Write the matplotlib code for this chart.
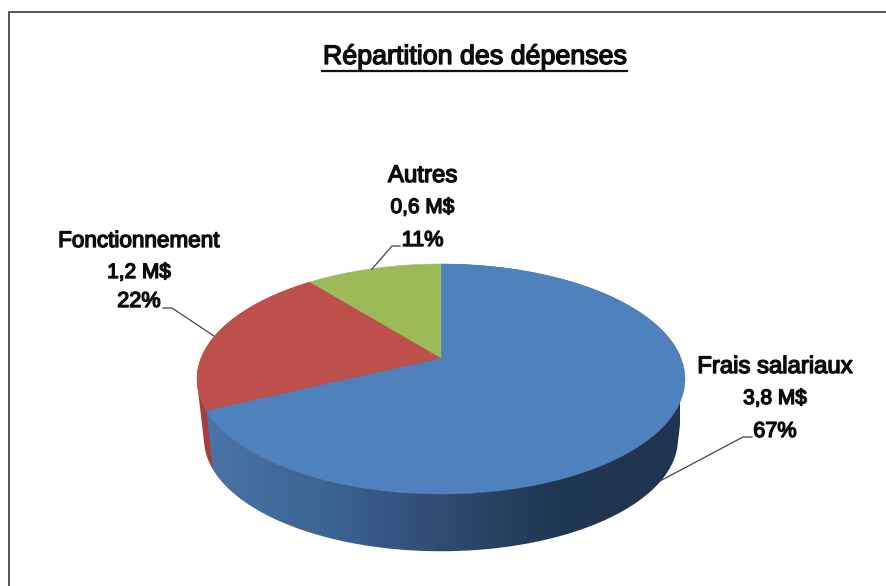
import numpy as np
import matplotlib
matplotlib.use("Agg")
import matplotlib.pyplot as plt
import matplotlib.patheffects as pe
from matplotlib.colors import LinearSegmentedColormap
from matplotlib.patches import Polygon

categories = ["Frais salariaux", "Fonctionnement", "Autres"]
amounts = [3.8, 1.2, 0.6]
amount_labels = ["3,8 M$", "1,2 M$", "0,6 M$"]
percent_labels = ["67%", "22%", "11%"]
title = "Répartition des dépenses"

FACE = ["#4F81BD", "#BE504C", "#9BBB59"]
WALL_STOPS = ["#4874A9", "#3D6594", "#2E4B70", "#203752", "#1F3450"]
WALL_RED = "#A83F3C"
FONT = ["Liberation Sans"]
INK = "#0C0C10"

W, H = 886, 586
fig = plt.figure(figsize=(W / 100, H / 100), dpi=100)
ax = fig.add_axes([0, 0, 1, 1])
ax.axis("off")

# chart frame (its right and bottom edges fall outside the crop)
ax.plot([9.5, 9.5, W], [H, 12, 12], color="#555555", lw=1.4, zorder=1)

CX, APEX = 441, 358
K, A, B = 0.1826, 239.9, 111.2


def face_xy(phi, sx=1.0, sy=1.0, dy=0.0):
    u, v = -np.sin(phi), np.cos(phi)
    d = 1 + K * v
    return CX + sx * A * u / d, APEX + dy - sy * B * v / d


def hull(pts):
    p = sorted(map(tuple, pts))
    def half(seq):
        out = []
        for q in seq:
            while len(out) > 1 and (out[-1][0] - out[-2][0]) * (q[1] - out[-2][1]) - (out[-1][1] - out[-2][1]) * (q[0] - out[-2][0]) <= 0:
                out.pop()
            out.append(q)
        return out[:-1]
    return np.array(half(p) + half(p[::-1]))


fractions = np.array(amounts) / sum(amounts)
edges = np.concatenate([[0], np.cumsum(fractions)])
ranges = [(-2 * np.pi * edges[i], -2 * np.pi * edges[i + 1]) for i in range(len(amounts))]

BOT = dict(sx=0.971, sy=0.975, dy=60.6)
cmap = LinearSegmentedColormap.from_list("wall", WALL_STOPS)

for i, (a0, a1) in enumerate(ranges):
    phi = np.linspace(a0, a1, 300)
    x0, y0 = face_xy(phi)
    x1, y1 = face_xy(phi, **BOT)
    pts = np.column_stack([np.r_[x0, x1[::-1]], np.r_[y0, y1[::-1]]])
    if i == 0:
        poly = Polygon(hull(pts), closed=True, fc="none", ec="none")
        ax.add_patch(poly)
        grad = np.linspace(0, 1, 256).reshape(1, -1)
        im = ax.imshow(grad, cmap=cmap, extent=[205, 680, H, 0], aspect="auto", zorder=2)
        im.set_clip_path(poly)
    elif i == 1:
        ax.add_patch(Polygon(hull(pts), closed=True, fc=WALL_RED, ec="none", zorder=1.5))
ax.set_xlim(0, W)
ax.set_ylim(H, 0)

for i, (a0, a1) in enumerate(ranges):
    phi = np.linspace(a0, a1, 300)
    x, y = face_xy(phi)
    ax.fill(np.r_[CX, x], np.r_[APEX, y], color=FACE[i], lw=0.3, zorder=3)

txt = dict(family=FONT, color=INK, ha="center", va="baseline", zorder=5,
           path_effects=[pe.withStroke(linewidth=1.0, foreground=INK)])
ax.text(474.5, 64, title, fontsize=19.3, **txt)
ax.plot([322, 627], [70.5, 70.5], color="#111111", lw=1.6, zorder=5)

label_x = [775, 139, 422.5]
label_y = [(373, 404, 437), (247, 278, 307), (182, 213, 246)]
category_sizes = [17.2, 16.2, 17.3]
for i, lx in enumerate(label_x):
    lines = (categories[i], amount_labels[i], percent_labels[i])
    sizes = (category_sizes[i], 15.0, 15.6)
    for s, yy, fs in zip(lines, label_y[i], sizes):
        ax.text(lx, yy, s, fontsize=fs, **txt)

leader = [([660, 743, 752], [481, 437, 437]),
          ([214, 172, 163], [336, 308, 308]),
          ([372, 392, 400], [269, 246, 246])]
for xs, ys in leader:
    ax.plot(xs, ys, color="#444444", lw=0.9, zorder=4)

fig.savefig("out.png", dpi=100, facecolor="white")
